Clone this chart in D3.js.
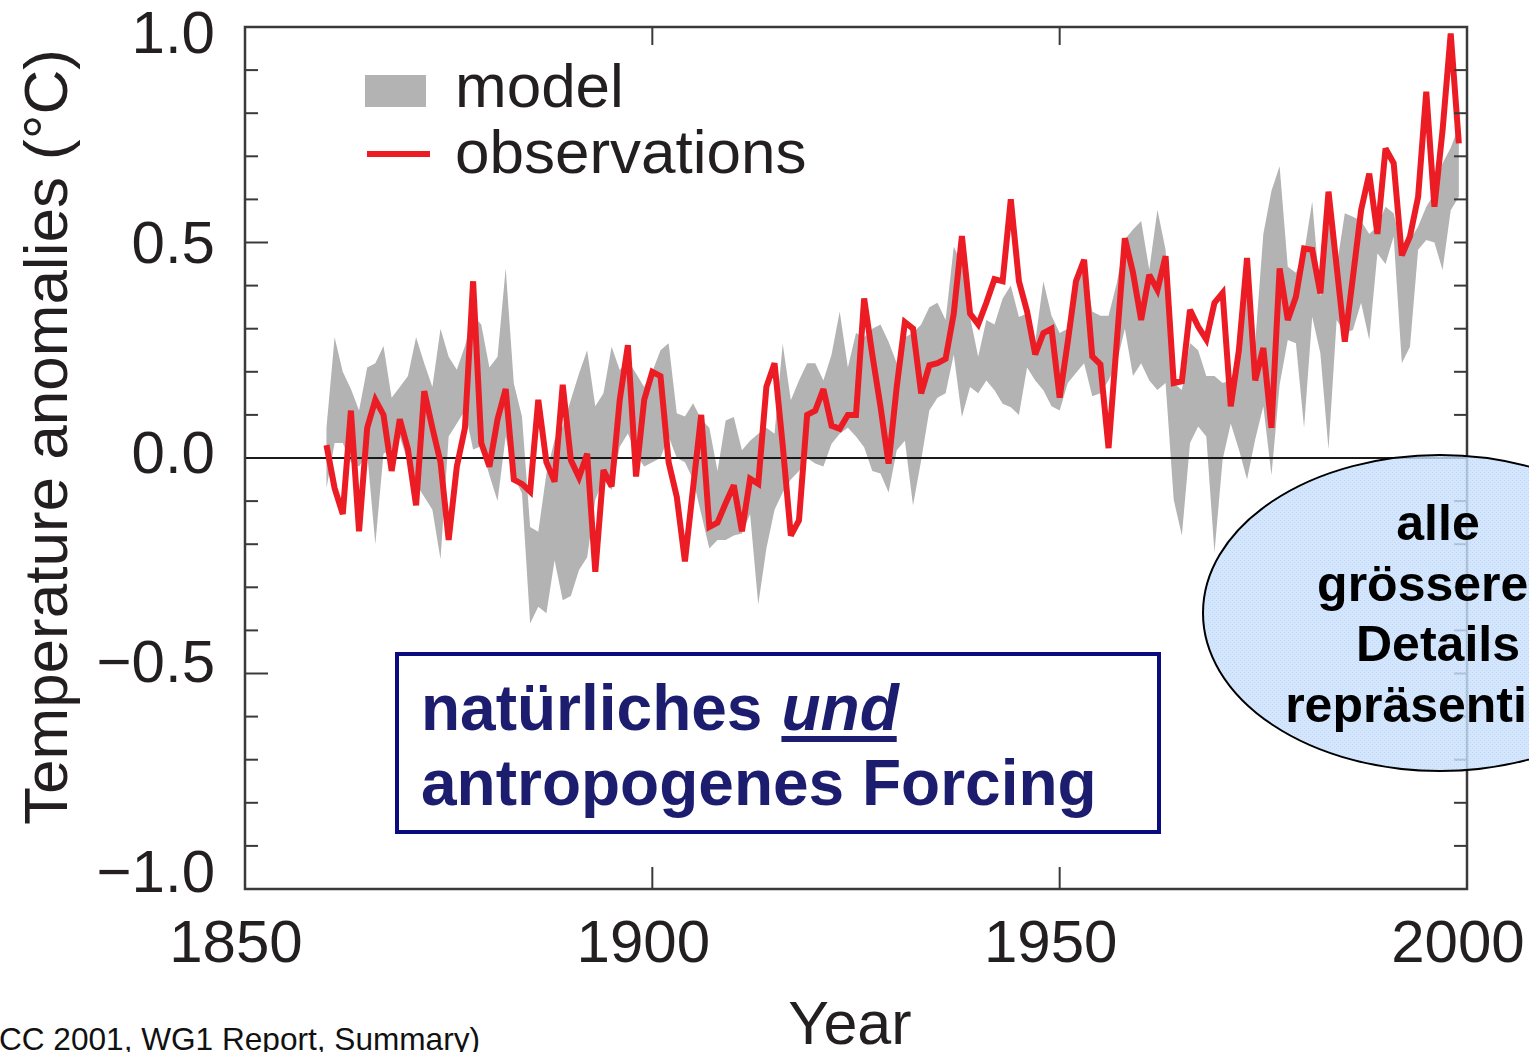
<!DOCTYPE html>
<html>
<head>
<meta charset="utf-8">
<script src="https://cdn.jsdelivr.net/npm/d3@7"></script>
<style>
  html, body { margin: 0; padding: 0; background: #fff; overflow: hidden; }
  svg { display: block; }
</style>
</head>
<body>
<svg id="chart" width="1529" height="1052"></svg>
<script>
// ---------------- data ----------------
const startYear = 1860;
const observations = [
  0.03, -0.07, -0.13, 0.11, -0.17, 0.07, 0.135, 0.10, -0.03, 0.09,          // 1860-1869
  0.02, -0.11, 0.155, 0.07, -0.01, -0.19, -0.02, 0.07, 0.41, 0.035,          // 1870-1879
  -0.02, 0.09, 0.16, -0.05, -0.06, -0.078, 0.135, -0.01, -0.055, 0.17,       // 1880-1889
  -0.005, -0.045, 0.01, -0.264, -0.028, -0.066, 0.135, 0.262, -0.043, 0.135, // 1890-1899
  0.20, 0.19, -0.01, -0.09, -0.24, -0.07, 0.10, -0.16, -0.15, -0.105,        // 1900-1909
  -0.063, -0.17, -0.048, -0.06, 0.165, 0.22, 0.03, -0.18, -0.145, 0.10,      // 1910-1919
  0.11, 0.16, 0.075, 0.068, 0.10, 0.10, 0.37, 0.24, 0.12, -0.013,            // 1920-1929
  0.165, 0.315, 0.30, 0.15, 0.215, 0.22, 0.23, 0.335, 0.515, 0.335,          // 1930-1939
  0.31, 0.36, 0.415, 0.41, 0.60, 0.41, 0.34, 0.24, 0.29, 0.30,               // 1940-1949
  0.14, 0.27, 0.41, 0.46, 0.236, 0.217, 0.023, 0.267, 0.51, 0.43,            // 1950-1959
  0.32, 0.425, 0.39, 0.468, 0.174, 0.178, 0.344, 0.305, 0.275, 0.36,         // 1960-1969
  0.383, 0.12, 0.25, 0.464, 0.18, 0.255, 0.07, 0.44, 0.32, 0.374,            // 1970-1979
  0.486, 0.483, 0.382, 0.618, 0.444, 0.27, 0.42, 0.575, 0.66, 0.52,          // 1980-1989
  0.718, 0.684, 0.47, 0.514, 0.606, 0.85, 0.583, 0.76, 0.985, 0.73           // 1990-1999
];
const modelUpper = [
  0.07, 0.28, 0.20, 0.16, 0.11, 0.21, 0.22, 0.26, 0.14, 0.165,
  0.19, 0.28, 0.22, 0.165, 0.30, 0.235, 0.205, 0.26, 0.33, 0.31,
  0.21, 0.235, 0.44, 0.173, 0.096, -0.16, -0.171, -0.036, 0.042, 0.073,
  0.135, 0.196, 0.25, 0.12, 0.15, 0.258, 0.204, 0.227, 0.196, 0.165,
  0.20, 0.25, 0.266, 0.104, 0.096, 0.127, 0.09, 0.07, -0.03, 0.087,
  0.095, 0.018, 0.04, 0.056, 0.07, 0.056, 0.265, 0.134, 0.18, 0.22,
  0.22, 0.18, 0.24, 0.34, 0.21, 0.29, 0.28, 0.30, 0.31, 0.27,
  0.22, 0.28, 0.29, 0.31, 0.35, 0.36, 0.32, 0.49, 0.45, 0.327,
  0.235, 0.32, 0.31, 0.37, 0.40, 0.327, 0.335, 0.27, 0.41, 0.33,
  0.29, 0.30, 0.39, 0.45, 0.34, 0.33, 0.33, 0.405, 0.507, 0.53,
  0.55, 0.437, 0.576, 0.483, 0.174, 0.158, 0.267, 0.25, 0.19, 0.19,
  0.174, 0.18, 0.236, 0.46, 0.267, 0.52, 0.62, 0.677, 0.444, 0.43,
  0.475, 0.595, 0.374, 0.552, 0.444, 0.568, 0.56, 0.55, 0.52, 0.537,
  0.583, 0.568, 0.483, 0.506, 0.537, 0.583, 0.614, 0.684, 0.72, 0.77
];
const modelLower = [
  -0.07, 0.035, 0.035, -0.01, -0.02, 0.01, -0.20, 0.01, 0.02, 0.05,
  -0.01, -0.06, -0.09, -0.12, -0.235, 0.05, 0.08, 0.11, 0.02, 0.027,
  -0.04, -0.10, 0.05, -0.043, -0.082, -0.384, -0.345, -0.36, -0.237, -0.33,
  -0.32, -0.26, -0.23, -0.097, -0.05, -0.074, 0.026, 0.057, 0.01, -0.02,
  -0.01, 0.0, 0.05, 0.0, -0.01, -0.05, -0.13, -0.21, -0.19, -0.19,
  -0.18, -0.175, -0.13, -0.34, -0.21, -0.12, -0.08, -0.05, -0.03, 0.0,
  -0.013, -0.02, 0.033, 0.056, 0.07, 0.05, 0.025, -0.03, -0.036, -0.08,
  0.018, 0.04, -0.11, -0.005, 0.11, 0.14, 0.15, 0.24, 0.095, 0.165,
  0.15, 0.18, 0.157, 0.126, 0.118, 0.10, 0.21, 0.18, 0.157, 0.12,
  0.11, 0.174, 0.197, 0.22, 0.143, 0.15, 0.18, 0.22, 0.30, 0.19,
  0.22, 0.18, 0.158, 0.174, -0.097, -0.18, 0.035, 0.073, 0.05, -0.22,
  -0.004, 0.08, 0.02, -0.05, 0.043, 0.12, -0.04, 0.17, 0.274, 0.266,
  0.07, 0.328, 0.243, 0.02, 0.32, 0.29, 0.297, 0.36, 0.274, 0.475,
  0.45, 0.514, 0.22, 0.258, 0.483, 0.506, 0.50, 0.436, 0.575, 0.606
];
const xTickValues = [1850, 1900, 1950, 2000];
const yTickValues = [-1.0, -0.5, 0.0, 0.5, 1.0];
const yMinorTicks = d3.range(-10, 11).map(d => d / 10);
const legendLabels = ["model", "observations"];
const xTitle = "Year";
const yTitle = "Temperature anomalies (°C)";
const boxLine1 = "natürliches";
const boxLine1Em = "und";
const boxLine2 = "antropogenes Forcing";
const ellipseLines = ["alle", "grösseren", "Details", "repräsentiert"];
const sourceNote = "(IPCC 2001, WG1 Report, Summary)";

// ---------------- setup ----------------
const svg = d3.select("#chart");
const FONT = "'Liberation Sans', Arial, Helvetica, sans-serif";
const TXT = "#231f20";
const FRAME = "#3a3a3a";

const x = d3.scaleLinear().domain([1850, 2000]).range([245, 1467]);
const y = d3.scaleLinear().domain([-1, 1]).range([889, 27]);
const yLab = d3.scaleLinear().domain([-1, 1]).range([871, 32]);

const rows = observations.map((v, i) => ({
  year: startYear + i, obs: v, hi: modelUpper[i], lo: modelLower[i]
}));

// model band
svg.append("path")
  .datum(rows)
  .attr("fill", "#b3b3b3")
  .attr("d", d3.area().x(d => x(d.year)).y0(d => y(d.lo)).y1(d => y(d.hi)));

// zero line
svg.append("line")
  .attr("x1", x(1850)).attr("x2", x(2000))
  .attr("y1", y(0)).attr("y2", y(0))
  .attr("stroke", "#1a1a1a").attr("stroke-width", 2);

// observations
svg.append("path")
  .datum(rows)
  .attr("fill", "none")
  .attr("stroke", "#ec1c24")
  .attr("stroke-width", 6)
  .attr("stroke-linejoin", "miter")
  .attr("stroke-miterlimit", 3)
  .attr("d", d3.line().x(d => x(d.year)).y(d => y(d.obs)));

// ticks
const tickG = svg.append("g").attr("stroke", FRAME).attr("stroke-width", 2);
yMinorTicks.filter(v => Math.abs(v) < 1).forEach(v => {
  const major = Math.abs(Math.abs(v) - 0.5) < 1e-9;
  if (Math.abs(v) < 1e-9) return;
  tickG.append("line")
    .attr("x1", x(1850)).attr("x2", x(1850) + (major ? 23 : 13))
    .attr("y1", y(v)).attr("y2", y(v));
  tickG.append("line")
    .attr("x1", x(2000)).attr("x2", x(2000) - 13)
    .attr("y1", y(v)).attr("y2", y(v));
});
xTickValues.filter(v => v > 1850 && v < 2000).forEach(v => {
  tickG.append("line").attr("x1", x(v)).attr("x2", x(v)).attr("y1", y(1)).attr("y2", y(1) + 18);
  tickG.append("line").attr("x1", x(v)).attr("x2", x(v)).attr("y1", y(-1)).attr("y2", y(-1) - 22);
});

// frame
svg.append("rect")
  .attr("x", x(1850)).attr("y", y(1))
  .attr("width", x(2000) - x(1850)).attr("height", y(-1) - y(1))
  .attr("fill", "none").attr("stroke", FRAME).attr("stroke-width", 2.5);

// y tick labels
svg.append("g").selectAll("text").data(yTickValues).join("text")
  .attr("x", 215).attr("y", d => yLab(d) + 21)
  .attr("text-anchor", "end")
  .attr("font-family", FONT).attr("font-size", 60).attr("fill", TXT)
  .text(d => (d < 0 ? "\u2212" : "") + Math.abs(d).toFixed(1));

// x tick labels
svg.append("g").selectAll("text").data(xTickValues).join("text")
  .attr("x", d => x(d) - 9).attr("y", 962)
  .attr("text-anchor", "middle")
  .attr("font-family", FONT).attr("font-size", 60).attr("fill", TXT)
  .text(d => d);

// axis titles
svg.append("text")
  .attr("x", 850).attr("y", 1044)
  .attr("text-anchor", "middle")
  .attr("font-family", FONT).attr("font-size", 61).attr("fill", TXT)
  .text(xTitle);
svg.append("text")
  .attr("transform", "translate(67,437) rotate(-90)")
  .attr("text-anchor", "middle")
  .attr("font-family", FONT).attr("font-size", 62).attr("fill", TXT)
  .text(yTitle);

// legend
svg.append("rect").attr("x", 365).attr("y", 75).attr("width", 61).attr("height", 32).attr("fill", "#b3b3b3");
svg.append("line").attr("x1", 367).attr("x2", 430).attr("y1", 154).attr("y2", 154)
  .attr("stroke", "#ec1c24").attr("stroke-width", 6);
svg.append("g").selectAll("text").data(legendLabels).join("text")
  .attr("x", 455).attr("y", (d, i) => 107 + i * 66)
  .attr("font-family", FONT).attr("font-size", 62).attr("fill", TXT)
  .text(d => d);

// annotation box
const NAVY = "#1d1d70";
svg.append("rect").attr("x", 397).attr("y", 654).attr("width", 762).attr("height", 178)
  .attr("fill", "#fff").attr("stroke", "#0b0b80").attr("stroke-width", 4);
const t1 = svg.append("text").attr("x", 421).attr("y", 730)
  .attr("font-family", FONT).attr("font-weight", "bold").attr("font-size", 64).attr("fill", NAVY)
  .text(boxLine1);
const w1 = t1.node().getComputedTextLength();
const undX = 421 + w1 + 19;
const t2 = svg.append("text").attr("x", undX).attr("y", 730)
  .attr("font-family", FONT).attr("font-weight", "bold").attr("font-style", "italic")
  .attr("font-size", 64).attr("fill", NAVY)
  .text(boxLine1Em);
const w2 = t2.node().getComputedTextLength();
svg.append("rect").attr("x", undX).attr("y", 736).attr("width", w2 - 2).attr("height", 6).attr("fill", NAVY);
svg.append("text").attr("x", 421).attr("y", 805)
  .attr("font-family", FONT).attr("font-weight", "bold").attr("font-size", 64).attr("fill", NAVY)
  .text(boxLine2);

// ellipse callout
const defs = svg.append("defs");
const pat = defs.append("pattern").attr("id", "dots").attr("width", 4).attr("height", 4)
  .attr("patternUnits", "userSpaceOnUse");
pat.append("rect").attr("width", 4).attr("height", 4).attr("fill", "#c9e1fc");
pat.append("rect").attr("width", 1).attr("height", 1).attr("fill", "#b3cff0");
pat.append("rect").attr("x", 2).attr("y", 2).attr("width", 1).attr("height", 1).attr("fill", "#b3cff0");
svg.append("ellipse")
  .attr("cx", 1440).attr("cy", 613).attr("rx", 237).attr("ry", 158)
  .attr("fill", "url(#dots)").attr("fill-opacity", 0.82)
  .attr("stroke", "#000").attr("stroke-width", 2);
svg.append("g").selectAll("text").data(ellipseLines).join("text")
  .attr("x", 1438).attr("y", (d, i) => 540 + i * 60.5)
  .attr("text-anchor", "middle")
  .attr("font-family", FONT).attr("font-weight", "bold").attr("font-size", 50).attr("fill", "#000")
  .text(d => d);

// source note
svg.append("text").attr("x", 480).attr("y", 1050)
  .attr("text-anchor", "end")
  .attr("font-family", FONT).attr("font-size", 31.6).attr("fill", "#111")
  .text(sourceNote);
</script>
</body>
</html>
